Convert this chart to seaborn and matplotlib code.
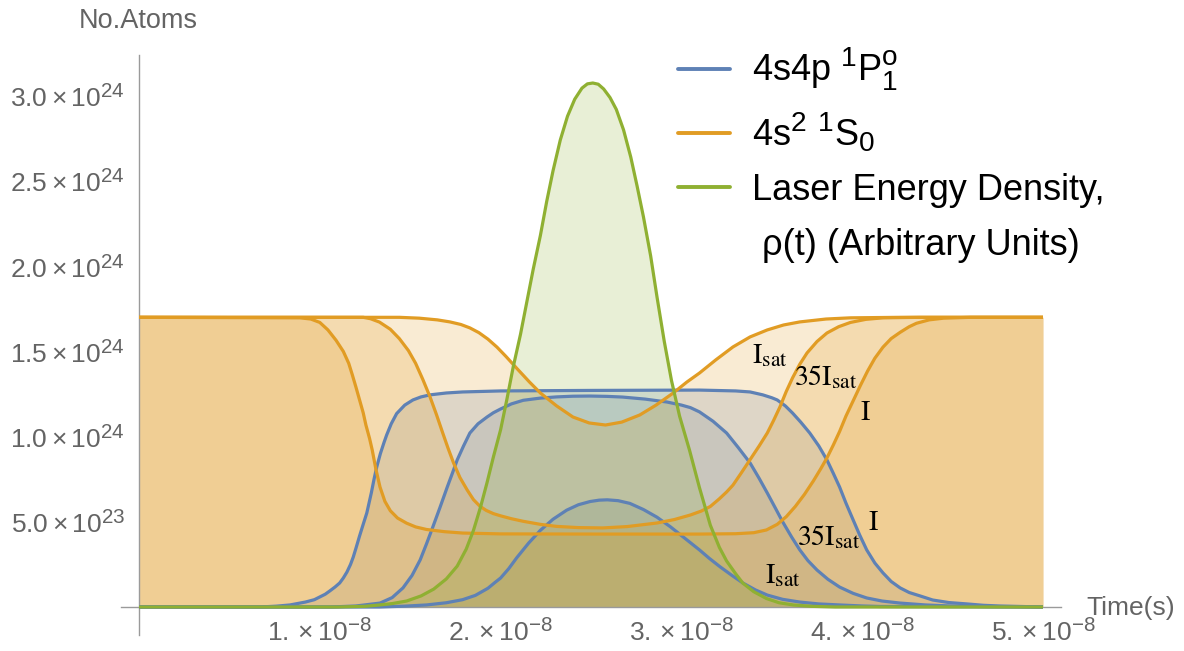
import numpy as np
import pandas as pd
import matplotlib
matplotlib.use("Agg")
import matplotlib.pyplot as plt
import seaborn as sns
from matplotlib.lines import Line2D
from matplotlib.ticker import FixedLocator

try:  # slightly larger super/subscripts, closer to the reference typesetting
    import matplotlib._mathtext as _mt
    _mt.SHRINK_FACTOR = 0.78
except Exception:
    pass

# ---------------- data (time in 1e-8 s, atoms in 1e24) ----------------
laser_t = [0.0, 1.10, 1.25, 1.33, 1.40, 1.48, 1.56, 1.63, 1.70, 1.76, 1.81, 1.85, 1.89, 1.925, 1.96,
           2.00, 2.035, 2.07, 2.11, 2.145, 2.18, 2.22, 2.255, 2.29, 2.33, 2.37, 2.41, 2.45, 2.48, 2.51,
           2.54, 2.57, 2.605, 2.64, 2.68, 2.72, 2.755, 2.79, 2.83, 2.865, 2.905, 2.945, 2.99, 3.045,
           3.10, 3.16, 3.21, 3.25, 3.30, 3.34, 3.40, 3.47, 3.54, 3.62, 3.72, 3.85, 5.0]
laser_n = [0.0, 0.0, 0.004, 0.012, 0.02, 0.035, 0.065, 0.105, 0.165, 0.24, 0.34, 0.45, 0.59, 0.73, 0.88,
           1.04, 1.22, 1.41, 1.60, 1.79, 1.98, 2.18, 2.38, 2.56, 2.74, 2.88, 2.98, 3.045, 3.07, 3.075,
           3.068, 3.04, 2.99, 2.92, 2.80, 2.64, 2.47, 2.29, 2.06, 1.82, 1.56, 1.33, 1.12, 0.92,
           0.70, 0.48, 0.35, 0.27, 0.195, 0.14, 0.09, 0.05, 0.025, 0.012, 0.004, 0.0, 0.0]

ground_I_t = [0.0, 0.89, 0.95, 1.00, 1.045, 1.09, 1.13, 1.16, 1.18, 1.20, 1.22, 1.24, 1.255, 1.275, 1.29,
              1.31, 1.333, 1.36, 1.39, 1.43, 1.48, 1.53, 1.59, 1.69, 1.79, 2.0, 2.55, 3.1, 3.30, 3.40,
              3.47, 3.53, 3.58, 3.63, 3.68, 3.73, 3.77, 3.805, 3.84, 3.875, 3.91, 3.95, 3.99, 4.03,
              4.07, 4.115, 4.16, 4.21, 4.26, 4.30, 4.37, 4.45, 4.6, 5.0]
ground_I_n = [1.70, 1.697, 1.69, 1.67, 1.626, 1.565, 1.50, 1.43, 1.362, 1.29, 1.215, 1.14, 1.068, 0.99,
              0.921, 0.81, 0.704, 0.62, 0.565, 0.522, 0.492, 0.470, 0.455, 0.442, 0.434, 0.429, 0.428,
              0.428, 0.430, 0.436, 0.452, 0.485, 0.53, 0.59, 0.66, 0.74, 0.81, 0.875, 0.95, 1.03, 1.12,
              1.21, 1.30, 1.385, 1.46, 1.525, 1.575, 1.612, 1.645, 1.665, 1.685, 1.695, 1.70, 1.70]

ground_35_t = [0.0, 1.24, 1.28, 1.33, 1.39, 1.44, 1.49, 1.53, 1.57, 1.61, 1.645, 1.68, 1.71, 1.74, 1.775,
               1.815, 1.85, 1.885, 1.92, 1.96, 2.0, 2.06, 2.125, 2.22, 2.31, 2.43, 2.565, 2.70, 2.865,
               2.96, 3.05, 3.11, 3.16, 3.21, 3.25, 3.285, 3.33, 3.38, 3.43, 3.475, 3.51, 3.545, 3.58,
               3.615, 3.655, 3.695, 3.75, 3.805, 3.87, 3.935, 4.02, 4.115, 4.32, 5.0]
ground_35_n = [1.70, 1.70, 1.692, 1.672, 1.630, 1.575, 1.505, 1.43, 1.335, 1.232, 1.13, 1.021, 0.93,
               0.845, 0.76, 0.687, 0.63, 0.592, 0.567, 0.548, 0.535, 0.518, 0.503, 0.485, 0.473, 0.466,
               0.464, 0.472, 0.493, 0.513, 0.540, 0.563, 0.590, 0.635, 0.675, 0.715, 0.785, 0.865,
               0.945, 1.021, 1.095, 1.174, 1.265, 1.345, 1.425, 1.491, 1.558, 1.608, 1.645, 1.670,
               1.688, 1.697, 1.70, 1.70]

ground_sat_t = [0.0, 1.44, 1.55, 1.65, 1.72, 1.78, 1.83, 1.88, 1.93, 1.98, 2.03, 2.09, 2.16, 2.22, 2.31,
                2.40, 2.49, 2.58, 2.67, 2.77, 2.86, 2.955, 3.03, 3.10, 3.19, 3.285, 3.38, 3.475, 3.565,
                3.655, 3.80, 3.935, 4.21, 5.0]
ground_sat_n = [1.70, 1.70, 1.695, 1.685, 1.673, 1.658, 1.638, 1.610, 1.572, 1.525, 1.470, 1.400, 1.320,
                1.256, 1.180, 1.115, 1.080, 1.068, 1.085, 1.127, 1.185, 1.256, 1.32, 1.373, 1.45, 1.526,
                1.585, 1.626, 1.655, 1.673, 1.690, 1.697, 1.70, 1.70]

excited_I_t = [0.0, 0.67, 0.76, 0.835, 0.92, 0.97, 1.0, 1.03, 1.055, 1.085, 1.11, 1.13, 1.15, 1.17, 1.185,
               1.20, 1.22, 1.24, 1.26, 1.285, 1.30, 1.315, 1.335, 1.355, 1.37, 1.395, 1.425, 1.47, 1.515,
               1.56, 1.61, 1.70, 1.79, 2.0, 2.5, 3.1, 3.30, 3.38, 3.45, 3.50, 3.53, 3.575, 3.615, 3.66,
               3.71, 3.76, 3.805, 3.84, 3.875, 3.91, 3.95, 3.985, 4.025, 4.07, 4.115, 4.16, 4.21, 4.26,
               4.32, 4.39, 4.48, 4.58, 4.67, 4.76, 5.0]
excited_I_n = [0.0, 0.0, 0.005, 0.012, 0.029, 0.043, 0.059, 0.075, 0.094, 0.118, 0.141, 0.170, 0.205,
               0.25, 0.293, 0.345, 0.417, 0.485, 0.552, 0.67, 0.75, 0.822, 0.90, 0.965, 1.010, 1.075,
               1.135, 1.185, 1.215, 1.233, 1.245, 1.256, 1.262, 1.268, 1.271, 1.273, 1.268, 1.262, 1.245,
               1.228, 1.215, 1.18, 1.138, 1.085, 1.021, 0.945, 0.863, 0.785, 0.704, 0.610, 0.511, 0.425,
               0.335, 0.258, 0.200, 0.150, 0.112, 0.085, 0.065, 0.041, 0.026, 0.018, 0.010, 0.006, 0.0]

excited_35_t = [0.0, 1.06, 1.20, 1.333, 1.40, 1.46, 1.51, 1.555, 1.59, 1.625, 1.665, 1.705, 1.735, 1.76,
                1.795, 1.83, 1.875, 1.925, 1.96, 2.0, 2.06, 2.125, 2.22, 2.31, 2.40, 2.495, 2.59, 2.675,
                2.80, 2.92, 3.00, 3.05, 3.10, 3.175, 3.25, 3.315, 3.38, 3.43, 3.475, 3.52, 3.56, 3.61,
                3.655, 3.70, 3.75, 3.81, 3.875, 3.95, 4.025, 4.11, 4.21, 4.35, 4.49, 4.7, 5.0]
excited_35_n = [0.0, 0.0, 0.006, 0.023, 0.055, 0.112, 0.185, 0.276, 0.37, 0.469, 0.585, 0.704, 0.790,
                0.863, 0.945, 1.021, 1.075, 1.115, 1.140, 1.162, 1.192, 1.213, 1.226, 1.233, 1.237,
                1.238, 1.236, 1.232, 1.220, 1.203, 1.185, 1.170, 1.145, 1.09, 1.021, 0.935, 0.845,
                0.755, 0.669, 0.580, 0.500, 0.41, 0.335, 0.272, 0.217, 0.163, 0.117, 0.080, 0.053,
                0.035, 0.023, 0.012, 0.006, 0.002, 0.0]

excited_sat_t = [0.0, 1.33, 1.47, 1.59, 1.70, 1.79, 1.86, 1.93, 1.97, 2.0, 2.045, 2.09, 2.155, 2.22, 2.29,
                 2.365, 2.43, 2.495, 2.545, 2.59, 2.65, 2.715, 2.79, 2.865, 2.94, 3.01, 3.10, 3.155,
                 3.215, 3.28, 3.34, 3.41, 3.475, 3.56, 3.655, 3.76, 3.875, 4.0, 4.1, 5.0]
excited_sat_n = [0.0, 0.0, 0.005, 0.012, 0.025, 0.043, 0.068, 0.110, 0.145, 0.170, 0.225, 0.290, 0.375,
                 0.450, 0.515, 0.568, 0.600, 0.619, 0.627, 0.629, 0.624, 0.608, 0.572, 0.527, 0.470,
                 0.411, 0.335, 0.285, 0.235, 0.185, 0.141, 0.100, 0.070, 0.045, 0.029, 0.018, 0.012,
                 0.006, 0.003, 0.0]

x_ticks = [1, 2, 3, 4, 5]
x_tick_labels = [r"$1.\times10^{-8}$", r"$2.\times10^{-8}$", r"$3.\times10^{-8}$",
                 r"$4.\times10^{-8}$", r"$5.\times10^{-8}$"]
y_ticks = [0.5, 1.0, 1.5, 2.0, 2.5, 3.0]
y_tick_labels = [r"$5.0\times10^{23}$", r"$1.0\times10^{24}$", r"$1.5\times10^{24}$",
                 r"$2.0\times10^{24}$", r"$2.5\times10^{24}$", r"$3.0\times10^{24}$"]

legend_labels = [r"4s4p $^{1}\mathrm{P}_{1}^{\mathrm{o}}$", r"4s$^{2}$ $^{1}\mathrm{S}_{0}$",
                 "Laser Energy Density,", " \u03c1(t) (Arbitrary Units)"]

BLUE, ORANGE, GREEN = "#5E81B5", "#E19C24", "#8FB032"
TS, NS = 1e-8, 1e24

# ---------------- style ----------------
sns.set_style("white")
plt.rcParams["font.family"] = ["Liberation Sans", "DejaVu Sans"]
plt.rcParams["mathtext.fontset"] = "custom"
plt.rcParams["mathtext.rm"] = "Liberation Sans"
plt.rcParams["mathtext.it"] = "Liberation Sans:italic"
plt.rcParams["mathtext.bf"] = "Liberation Sans:bold"

W, H = 1184, 651
fig = plt.figure(figsize=(W / 100, H / 100), dpi=100)

px0, px_per = 139.0, 180.8
py0, py_per = 607.0, 170.4
xlo, xhi = -0.10, 5.10
ylo, yhi = -0.165, 3.24
left = (px0 + xlo * px_per) / W
right = (px0 + xhi * px_per) / W
top = (py0 - yhi * py_per)
bot = (py0 - ylo * py_per)
ax = fig.add_axes([left, 1 - bot / H, right - left, (bot - top) / H])

curves = [
    (excited_I_t, excited_I_n, BLUE),
    (excited_35_t, excited_35_n, BLUE),
    (excited_sat_t, excited_sat_n, BLUE),
    (ground_I_t, ground_I_n, ORANGE),
    (ground_35_t, ground_35_n, ORANGE),
    (ground_sat_t, ground_sat_n, ORANGE),
    (laser_t, laser_n, GREEN),
]

for t, n, c in curves:
    ax.fill_between(np.array(t) * TS, 0, np.array(n) * NS, color=c, alpha=0.2, linewidth=0, zorder=1)

for t, n, c in curves:
    df = pd.DataFrame({"t": np.array(t) * TS, "n": np.array(n) * NS})
    sns.lineplot(data=df, x="t", y="n", color=c, linewidth=2.3, ax=ax, sort=False,
                 estimator=None, zorder=3, solid_joinstyle="round", solid_capstyle="butt")

ax.set_xlim(xlo * TS, xhi * TS)
ax.set_ylim(ylo * NS, yhi * NS)
ax.set_xlabel("")
ax.set_ylabel("")

AXC = "#9a9a9a"
for s in ["top", "right"]:
    ax.spines[s].set_visible(False)
ax.spines["left"].set_position(("data", 0))
ax.spines["bottom"].set_position(("data", 0))
for s in ["left", "bottom"]:
    ax.spines[s].set_color(AXC)
    ax.spines[s].set_linewidth(1.0)
    ax.spines[s].set_zorder(2)

ax.xaxis.set_major_locator(FixedLocator([v * TS for v in x_ticks]))
ax.xaxis.set_minor_locator(FixedLocator([round(0.2 * i, 1) * TS for i in range(1, 26) if i % 5]))
ax.yaxis.set_major_locator(FixedLocator([v * NS for v in y_ticks]))
ax.yaxis.set_minor_locator(FixedLocator([round(0.1 * i, 1) * NS for i in range(-1, 33) if i % 5 and i != 0]))
ax.set_xticklabels(x_tick_labels)
ax.set_yticklabels(y_tick_labels)

TXT = "#646464"
ax.tick_params(axis="both", which="major", direction="in", length=8, width=1.0, color=AXC,
               labelsize=19, labelcolor=TXT)
ax.tick_params(axis="both", which="minor", direction="in", length=5, width=1.0, color=AXC)
ax.tick_params(axis="x", which="major", pad=8)
ax.tick_params(axis="y", which="major", pad=10)

fig.text(79 / W, 1 - 28 / H, "No.Atoms", fontsize=19.5, color=TXT, ha="left", va="baseline")
fig.text(1086 / W, 1 - 608 / H, "Time(s)", fontsize=19, color=TXT, ha="left", va="center")

ann = [
    (3.390, 1.432, r"$\mathrm{I}_{\mathrm{sat}}$"),
    (3.622, 1.303, r"$\mathrm{35I}_{\mathrm{sat}}$"),
    (3.988, 1.097, r"$\mathrm{I}$"),
    (4.032, 0.452, r"$\mathrm{I}$"),
    (3.640, 0.364, r"$\mathrm{35I}_{\mathrm{sat}}$"),
    (3.462, 0.141, r"$\mathrm{I}_{\mathrm{sat}}$"),
]
for x, y, s in ann:
    ax.text(x * TS, y * NS, s, fontsize=20, color="black", ha="left", va="baseline",
            math_fontfamily="stix", zorder=5)

h_blue = Line2D([], [], color=BLUE, lw=2.8)
h_orange = Line2D([], [], color=ORANGE, lw=2.8)
h_green = Line2D([], [], color=GREEN, lw=2.8)
h_none = Line2D([], [], color="none", lw=0)
common = dict(loc="upper left", bbox_transform=fig.transFigure, frameon=False, fontsize=26,
              borderpad=0, borderaxespad=0, handlelength=1.45, handletextpad=0.6)
leg1 = ax.legend([h_blue, h_orange], legend_labels[:2], bbox_to_anchor=(678 / W, 1 - 45 / H),
                 labelspacing=0.45, **common)
ax.add_artist(leg1)
leg2 = ax.legend([h_green, h_none], legend_labels[2:], bbox_to_anchor=(678 / W, 1 - 173 / H),
                 labelspacing=0.55, **common)
for lg in (leg1, leg2):
    for txt in lg.get_texts():
        txt.set_color("black")

fig.savefig("out.png", dpi=100)
